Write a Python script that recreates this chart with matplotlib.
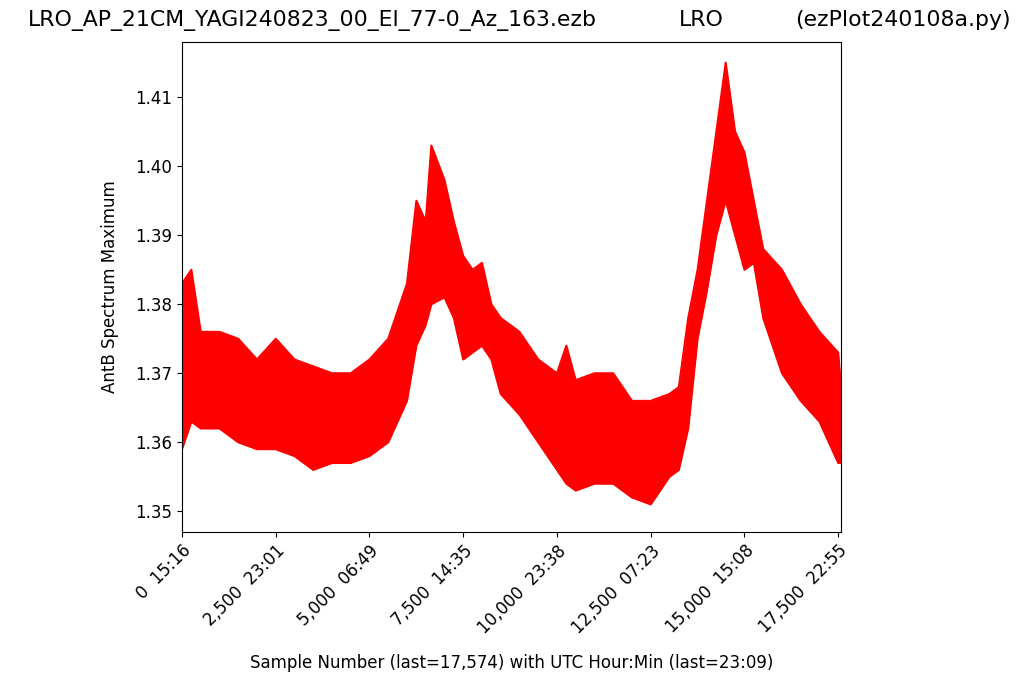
import matplotlib
matplotlib.use("Agg")
import matplotlib.pyplot as plt

samples = [0,250,500,1000,1500,2000,2500,3000,3500,4000,4500,5000,5500,6000,6250,6500,6650,7000,7250,7500,7750,8000,8250,8500,9000,9500,10000,10250,10500,11000,11500,12000,12500,13000,13250,13500,13750,14000,14250,14500,14750,15000,15250,15500,16000,16500,17000,17500,17574]
upper = [1.383,1.385,1.376,1.376,1.375,1.372,1.375,1.372,1.371,1.370,1.370,1.372,1.375,1.383,1.395,1.392,1.403,1.398,1.392,1.387,1.385,1.386,1.380,1.378,1.376,1.372,1.370,1.374,1.369,1.370,1.370,1.366,1.366,1.367,1.368,1.378,1.385,1.395,1.405,1.415,1.405,1.402,1.395,1.388,1.385,1.380,1.376,1.373,1.368]
lower = [1.359,1.363,1.362,1.362,1.360,1.359,1.359,1.358,1.356,1.357,1.357,1.358,1.360,1.366,1.374,1.377,1.380,1.381,1.378,1.372,1.373,1.374,1.372,1.367,1.364,1.360,1.356,1.354,1.353,1.354,1.354,1.352,1.351,1.355,1.356,1.362,1.375,1.382,1.390,1.395,1.390,1.385,1.386,1.378,1.370,1.366,1.363,1.357,1.357]
tick_pos = [0,2500,5000,7500,10000,12500,15000,17500]
tick_lab = ["0  15:16","2,500  23:01","5,000  06:49","7,500  14:35","10,000  23:38","12,500  07:23","15,000  15:08","17,500  22:55"]

fig = plt.figure(figsize=(10.24,6.9), dpi=100)
ax = fig.add_axes([182/1024, 1-532/690, (841-182)/1024, (532-42)/690])
ax.fill_between(samples, lower, upper, color='red', lw=0)
ax.plot(samples, upper, color='red', lw=1.5)
ax.plot(samples, lower, color='red', lw=1.5)
ax.set_xlim(0, 17574)
ax.set_ylim(1.347, 1.418)
ax.set_xticks(tick_pos)
ax.set_xticklabels(tick_lab, rotation=45, ha='right', rotation_mode='anchor', fontsize=12)
ax.set_yticks([1.35,1.36,1.37,1.38,1.39,1.40,1.41])
ax.set_yticklabels(["1.35","1.36","1.37","1.38","1.39","1.40","1.41"], fontsize=12)
ax.set_ylabel("AntB Spectrum Maximum", fontsize=12, labelpad=12)
ax.set_xlabel("Sample Number (last=17,574) with UTC Hour:Min (last=23:09)", fontsize=12, labelpad=12)
fig.text(0.027, 0.985, "LRO_AP_21CM_YAGI240823_00_El_77-0_Az_163.ezb", fontsize=15.8, va='top')
fig.text(0.685, 0.985, "LRO", fontsize=15.8, va='top', ha='center')
fig.text(0.987, 0.985, "(ezPlot240108a.py)", fontsize=15.8, va='top', ha='right')
fig.savefig("out.png", dpi=100)
